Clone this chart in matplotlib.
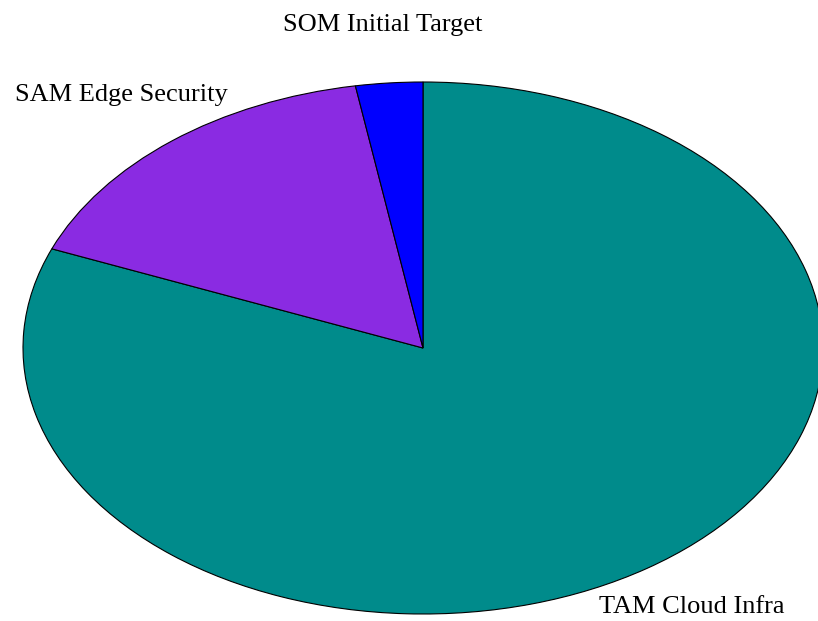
import matplotlib
matplotlib.use("Agg")
import matplotlib.pyplot as plt
from matplotlib.transforms import offset_copy

labels = ["TAM Cloud Infra", "SAM Edge Security", "SOM Initial Target"]
values = [150, 30, 5]
colors = ["#008B8B", "#8A2BE2", "#0000FF"]

fig = plt.figure(figsize=(8.18, 6.21), dpi=100)
ax = fig.add_axes([0, 0, 1, 1])
wedges, texts = ax.pie(values, labels=labels, colors=colors, startangle=90,
                       counterclock=False, labeldistance=1.2,
                       wedgeprops=dict(edgecolor="black", linewidth=0.8),
                       textprops=dict(family="Liberation Serif", fontsize=19))
shift = offset_copy(ax.transData, fig=fig, x=0, y=5, units="dots")
for t in texts:
    t.set_ha("center")
    t.set_va("center")
    t.set_transform(shift)
ax.set_aspect("auto")
ax.set_xlim(-423 / 400, (818 - 423) / 400)
ax.set_ylim(-273 / 266, 348 / 266)
ax.axis("off")
fig.savefig("out.png", dpi=100, facecolor="white")
